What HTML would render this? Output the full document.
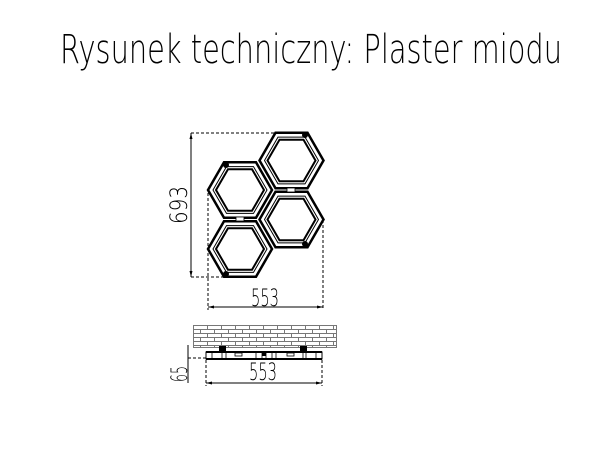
<!DOCTYPE html>
<html><head><meta charset="utf-8"><style>
html,body{margin:0;padding:0;background:#fff;}
svg{display:block;}
text{font-family:"DejaVu Sans","Liberation Sans",sans-serif;font-weight:200;}
</style></head><body>
<svg width="602" height="454" viewBox="0 0 602 454" xmlns="http://www.w3.org/2000/svg">
<defs>
<pattern id="brick" x="193" y="325" width="14" height="8" patternUnits="userSpaceOnUse">
<rect width="14" height="8" fill="#fff"/>
<path d="M0 0.5H14M0 4.5H14M0.5 0.5V4.5M7.5 4.5V8.5" stroke="#777" stroke-width="1" fill="none"/>
</pattern>
<g id="hex">
<polygon points="-32,0 -16,-27.7 16,-27.7 32,0 16,27.7 -16,27.7" fill="none" stroke="#000" stroke-width="2.5"/>
<polygon points="-27,0 -13.5,-23.4 13.5,-23.4 27,0 13.5,23.4 -13.5,23.4" fill="none" stroke="#000" stroke-width="1"/>
<polygon points="-24,0 -12,-20.8 12,-20.8 24,0 12,20.8 -12,20.8" fill="none" stroke="#000" stroke-width="2"/>
</g>
</defs>
<text x="60" y="63" font-size="40" textLength="502" lengthAdjust="spacingAndGlyphs">Rysunek techniczny: Plaster miodu</text>

<use href="#hex" x="291.5" y="160.5"/>
<use href="#hex" x="240" y="190"/>
<use href="#hex" x="291.5" y="219.5"/>
<use href="#hex" x="240" y="249"/>
<circle cx="305" cy="135" r="3" fill="#000"/>
<circle cx="226" cy="165" r="3" fill="#000"/>
<circle cx="305" cy="244" r="3" fill="#000"/>
<circle cx="226" cy="274" r="3" fill="#000"/>
<rect x="287" y="188" width="8" height="4" fill="#fff" stroke="#000" stroke-width="0.8"/>
<rect x="236" y="217" width="8" height="4" fill="#fff" stroke="#000" stroke-width="0.8"/>

<g stroke="#000" stroke-width="1" fill="none">
<line x1="191" y1="133" x2="191" y2="277"/>
<line x1="191" y1="133" x2="275" y2="133" stroke-dasharray="3,2"/>
<line x1="191" y1="277" x2="226" y2="277" stroke-dasharray="3,2"/>
<line x1="208" y1="193" x2="208" y2="310" stroke-dasharray="3,2"/>
<line x1="323" y1="220" x2="323" y2="310" stroke-dasharray="3,2"/>
<line x1="208" y1="307" x2="323" y2="307"/>
<line x1="188" y1="345" x2="188" y2="383"/>
<line x1="188" y1="358" x2="206" y2="358" stroke-dasharray="3,2"/>
<line x1="206" y1="360" x2="206" y2="386" stroke-dasharray="3,2"/>
<line x1="322" y1="360" x2="322" y2="386" stroke-dasharray="3,2"/>
<line x1="206" y1="383" x2="322" y2="383"/>
</g>
<g fill="#000">
<polygon points="191,133 189.5,139 192.5,139"/><polygon points="191,277 189.5,271 192.5,271"/>
<polygon points="208,307 214,305.5 214,308.5"/><polygon points="323,307 317,305.5 317,308.5"/>
<polygon points="206,383 212,381.5 212,384.5"/><polygon points="322,383 316,381.5 316,384.5"/>
</g>
<text x="0" y="0" font-size="24" transform="translate(187,205) rotate(-90)" text-anchor="middle" textLength="38" lengthAdjust="spacingAndGlyphs">693</text>
<text x="265" y="306" font-size="24" text-anchor="middle" textLength="28" lengthAdjust="spacingAndGlyphs">553</text>
<text x="0" y="0" font-size="22" transform="translate(187,374) rotate(-90)" text-anchor="middle" textLength="16" lengthAdjust="spacingAndGlyphs">65</text>
<text x="263" y="380" font-size="24" text-anchor="middle" textLength="28" lengthAdjust="spacingAndGlyphs">553</text>

<rect x="193.5" y="325.5" width="143" height="22" fill="url(#brick)" stroke="#777" stroke-width="1"/>
<rect x="206" y="352" width="116" height="7" fill="#fff" stroke="#000" stroke-width="1"/>
<line x1="206" y1="352" x2="322" y2="352" stroke="#000" stroke-width="2"/>
<line x1="206" y1="359" x2="322" y2="359" stroke="#000" stroke-width="2"/>
<rect x="219" y="346" width="7" height="6" fill="#000"/>
<rect x="300" y="346" width="7" height="6" fill="#000"/>
<g stroke="#000" stroke-width="0.8">
<line x1="212" y1="352" x2="212" y2="359"/><line x1="222" y1="352" x2="222" y2="359"/><line x1="226" y1="352" x2="226" y2="359"/>
<line x1="256" y1="352" x2="256" y2="359"/><line x1="262" y1="352" x2="262" y2="359"/><line x1="266" y1="352" x2="266" y2="359"/><line x1="272" y1="352" x2="272" y2="359"/><line x1="276" y1="352" x2="276" y2="359"/>
<line x1="303" y1="352" x2="303" y2="359"/><line x1="306" y1="352" x2="306" y2="359"/><line x1="316" y1="352" x2="316" y2="359"/>
</g>
<rect x="235" y="353" width="7" height="3" fill="none" stroke="#000" stroke-width="0.8"/>
<rect x="287" y="353" width="7" height="3" fill="none" stroke="#000" stroke-width="0.8"/>
<rect x="262" y="353" width="4" height="3" fill="#000"/>
</svg>
</body></html>
